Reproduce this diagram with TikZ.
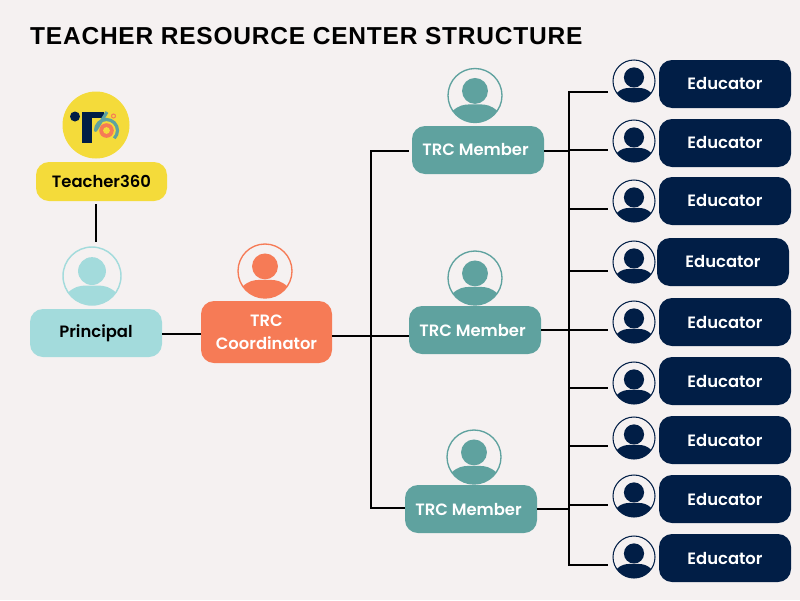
\documentclass[tikz,border=0pt]{standalone}
\usepackage{fontspec}
\setmainfont{Poppins}[BoldFont={* SemiBold}]
\newfontfamily\titlefont{Liberation Sans}[BoldFont={Liberation Sans Bold}]
\definecolor{bgc}{HTML}{F5F1F1}
\definecolor{navy}{HTML}{011E46}
\definecolor{teal}{HTML}{5FA29F}
\definecolor{coral}{HTML}{F67B56}
\definecolor{aqua}{HTML}{A3DBDC}
\definecolor{gold}{HTML}{F4DB3A}
\tikzset{
 x=1pt,y=-1pt,
 box/.style={rounded corners=13pt,inner sep=0pt,align=center,font=\fontsize{16.4pt}{23pt}\selectfont\bfseries},
 edu/.style={box,fill=navy,text=white,minimum width=132pt,minimum height=48pt},
 mem/.style={box,fill=teal,text=white,minimum width=132pt,minimum height=48pt},
 conn/.style={draw=black,line width=1.7pt},
 iconring/.style={circle,inner sep=0pt,fill=bgc},
}
% \person{name}{x}{y}{radius}{colour}
\newcommand{\person}[5]{%
 \node[iconring,draw=#5,line width=0.05*#4 pt,minimum size=2*#4 pt] (#1) at (#2,#3) {};
 \fill[#5] (#2,#3-0.17*#4) circle[radius=0.48*#4];
 \begin{scope}
  \clip (#2,#3) circle[radius=#4];
  \fill[#5] (#2-#4,#3+#4) -- (#2-0.84*#4,#3+0.58*#4)
    .. controls (#2-0.6*#4,#3+0.36*#4) and (#2-0.4*#4,#3+0.33*#4) .. (#2-0.2*#4,#3+0.33*#4)
    -- (#2+0.2*#4,#3+0.33*#4)
    .. controls (#2+0.4*#4,#3+0.33*#4) and (#2+0.6*#4,#3+0.36*#4) .. (#2+0.84*#4,#3+0.58*#4)
    -- (#2+#4,#3+#4) -- cycle;
 \end{scope}
}
\begin{document}
\begin{tikzpicture}
\useasboundingbox (0,0) rectangle (800,600);
\fill[bgc] (0,0) rectangle (800,600);
\node[anchor=base west,inner sep=0pt,font=\fontsize{24.5pt}{30pt}\selectfont\titlefont\bfseries,text=black] (title) at (30,44) {\addfontfeature{LetterSpace=3.2}TEACHER RESOURCE CENTER STRUCTURE};

% Teacher360 logo
\node[circle,fill=gold,minimum size=67pt,inner sep=0pt] (logo) at (96,125) {};
\fill[navy] (75,116.5) circle[radius=5];
\fill[navy] (82,112) rectangle (92,143);
\fill[navy] (92,112) rectangle (104,117.5);
\draw[teal,line width=3.2pt,line join=round] (107,112) -- (95.5,130.5) arc[start angle=180,end angle=405,radius=11];
\fill[coral] (106.5,130.5) circle[radius=7.3];
\fill[gold] (106.5,130.5) circle[radius=3.4];
\draw[coral,line width=1pt] (113.5,116) circle[radius=2];

\node[box,fill=gold,text=black,minimum width=131pt,minimum height=39pt] (t360) at (101.5,181.5) {Teacher360};

\person{pi}{92}{276}{29}{aqua}
\node[box,fill=aqua,text=black,minimum width=132pt,minimum height=48pt] (principal) at (96,333) {\raisebox{-1pt}{Principal}};
\person{ci}{265}{271}{27}{coral}
\node[box,fill=coral,text=white,minimum width=131pt,minimum height=62pt] (coord) at (266.5,332) {TRC\\Coordinator};

\person{mi1}{475}{95.5}{27}{teal}
\node[mem] (m1) at (478,150) {TRC Member\kern5pt};
\person{mi2}{475}{278}{27}{teal}
\node[mem] (m2) at (475,330) {TRC Member\kern5pt};
\person{mi3}{474}{457}{27}{teal}
\node[mem] (m3) at (471,509) {TRC Member\kern5pt};

% educators
\foreach \n/\bx/\by/\iy in {1/725/84/81,2/725/143/141,3/725/201/201,4/723/262/262,5/725/322/322,6/725/381/383,7/725/440/438,8/725/499/496,9/725/558/557}{
 \person{ei\n}{634}{\iy}{21}{navy}
 \node[edu] (e\n) at (\bx,\by) {Educator};
}

% connectors
\coordinate (topL) at (371,151);
\coordinate (botL) at (371,508);
\coordinate (jL) at (371,336);
\coordinate (topR) at (569,92);
\coordinate (botR) at (569,565);
\coordinate (tstem) at (96,204);
\coordinate (pstem) at (96,242);
\draw[conn] (tstem) -- (pstem);
\draw[conn] (principal.east |- 0,334) -- (coord.west |- 0,334);
\draw[conn] (coord.east |- jL) -- (m2.west |- jL);
\draw[conn,line cap=rect] (topL) -- (botL);
\draw[conn] (topL) -- (409,151);
\draw[conn] (botL) -- (405,508);
\draw[conn,line cap=rect] (topR) -- (botR);
\draw[conn] (m1.east |- topL) -- (569,151);
\draw[conn] (m2.east) -- (569,330);
\draw[conn] (m3.east) -- (569,509);
\foreach \yy in {92,150,209,271,330,388,446,505,565}{
 \draw[conn] (569,\yy) -- (608,\yy);
}
\end{tikzpicture}
\end{document}
